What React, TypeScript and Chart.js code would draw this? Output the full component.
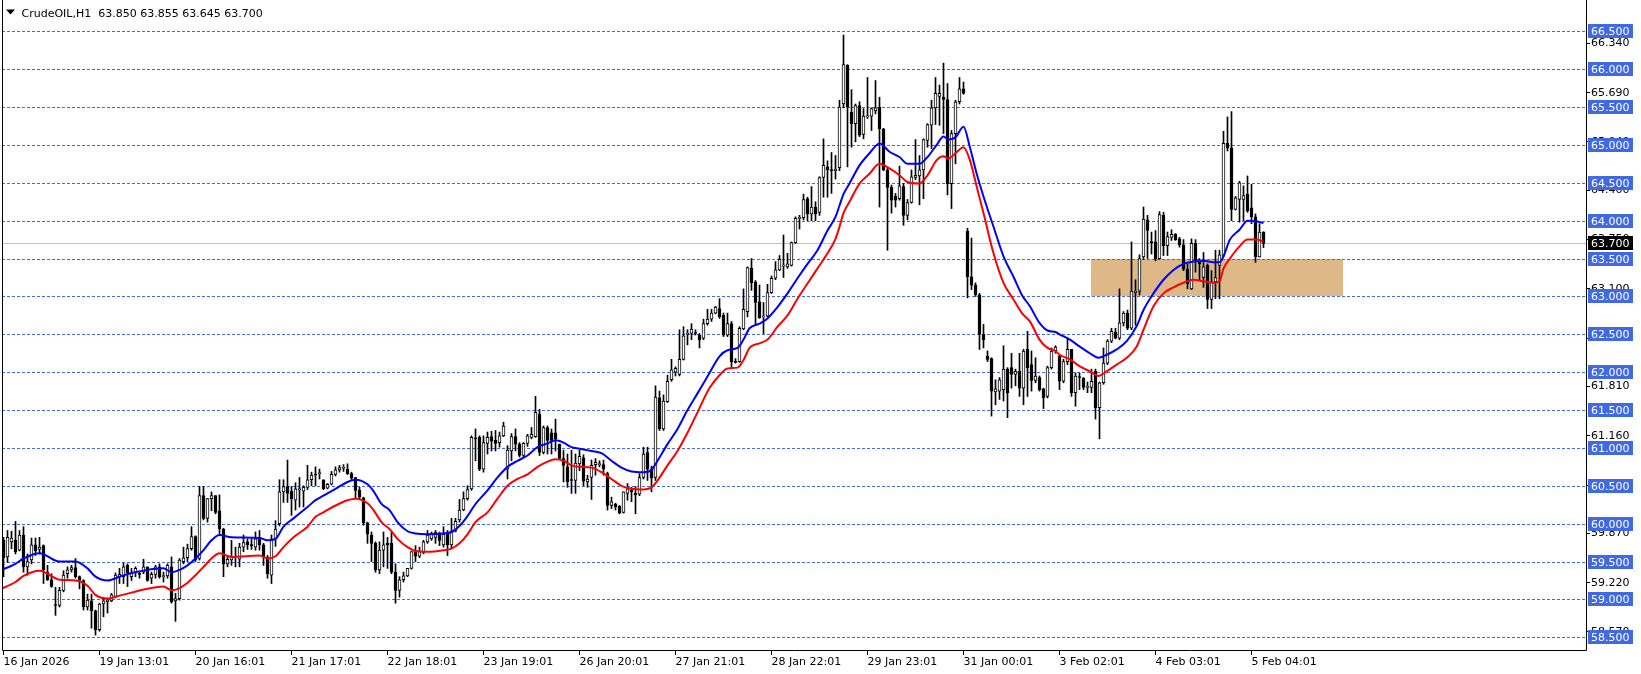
import React, { useEffect, useRef } from "react";
import { Chart, registerables } from "chart.js";

Chart.register(...registerables);

const FONT = "'DejaVu Sans', 'Liberation Sans', sans-serif";

// ---------- OHLC data (H1 bars) ----------
const opens = [
  59.78, 59.56, 59.76, 59.78, 59.65, 59.85, 59.43, 59.52, 59.72, 59.66,
  59.71, 59.36, 59.26, 58.93, 58.92, 59.12, 59.34, 59.39, 59.42, 59.30,
  59.25, 58.90, 58.98, 58.85, 58.60, 58.94, 58.97, 58.98, 59.04, 59.30,
  59.30, 59.45, 59.30, 59.35, 59.34, 59.36, 59.43, 59.28, 59.33, 59.43,
  59.30, 59.31, 59.43, 58.98, 59.01, 59.50, 59.55, 59.67, 59.83, 59.54,
  60.37, 60.07, 60.33, 60.37, 60.17, 59.93, 59.47, 59.52, 59.57, 59.53,
  59.69, 59.76, 59.72, 59.69, 59.80, 59.72, 59.56, 59.32, 59.80, 60.00,
  60.42, 60.49, 60.43, 60.31, 60.45, 60.43, 60.48, 60.58, 60.65, 60.66,
  60.58, 60.47, 60.52, 60.65, 60.71, 60.73, 60.72, 60.66, 60.61, 60.44,
  60.34, 60.01, 59.85, 59.74, 59.39, 59.65, 59.74, 59.74, 59.36, 59.12,
  59.26, 59.31, 59.41, 59.63, 59.57, 59.62, 59.76, 59.80, 59.82, 59.87,
  59.72, 59.86, 59.72, 59.90, 60.05, 60.18, 60.33, 60.46, 61.13, 61.14,
  60.72, 61.06, 61.15, 61.10, 61.07, 61.16, 60.72, 60.96, 61.15, 61.05,
  60.90, 61.06, 61.14, 61.15, 61.45, 60.94, 61.27, 61.20, 61.20, 61.05,
  60.86, 60.75, 60.58, 60.57, 60.79, 60.87, 60.55, 60.61, 60.78, 60.78,
  60.78, 60.66, 60.24, 60.26, 60.23, 60.15, 60.40, 60.44, 60.40, 60.39,
  60.61, 60.94, 60.72, 60.61, 61.66, 61.25, 61.61, 61.90, 62.00, 61.97,
  62.17, 62.50, 62.51, 62.52, 62.49, 62.45, 62.64, 62.70, 62.78, 62.84,
  62.75, 62.49, 62.64, 62.14, 62.14, 62.57, 62.80, 63.37, 63.19, 62.93,
  62.73, 62.74, 63.05, 63.24, 63.35, 63.40, 63.39, 63.41, 63.71, 64.03,
  64.04, 64.29, 64.09, 64.18, 64.11, 64.57, 64.71, 64.67, 64.66, 64.70,
  65.54, 66.05, 65.43, 65.28, 65.52, 65.14, 65.37, 65.38, 65.45, 65.50,
  65.21, 64.67, 64.44, 64.32, 64.29, 64.45, 64.07, 64.24, 64.57, 64.59,
  64.67, 65.06, 65.26, 65.49, 65.64, 65.63, 65.60, 64.49, 65.15, 65.57,
  65.74, 63.86, 63.26, 63.15, 63.02, 62.50, 62.21, 62.18, 61.74, 61.75,
  61.77, 62.04, 62.06, 61.97, 62.01, 61.79, 62.30, 62.10, 61.89, 61.93,
  61.78, 61.68, 62.06, 62.28, 62.21, 61.88, 62.14, 62.30, 61.73, 61.94,
  61.92, 61.80, 61.80, 62.01, 61.53, 61.86, 62.12, 62.41, 62.53, 62.45,
  62.65, 62.78, 62.58, 63.05, 63.07, 63.52, 64.01, 63.72, 63.72, 63.50,
  64.07, 63.67, 63.78, 63.82, 63.76, 63.68, 63.36, 63.10, 63.70, 63.47,
  63.25, 63.41, 62.96, 63.19, 63.41, 63.54, 65.02, 64.96, 64.15, 64.28,
  64.28, 64.35, 64.17, 64.05, 63.52, 63.85,
];

const highs = [
  59.82, 59.91, 59.90, 60.03, 59.91, 59.96, 59.60, 59.81, 59.81, 59.82,
  59.72, 59.45, 59.34, 59.16, 59.16, 59.38, 59.43, 59.45, 59.54, 59.31,
  59.26, 59.07, 59.07, 58.86, 58.95, 59.03, 59.02, 59.08, 59.35, 59.41,
  59.48, 59.47, 59.41, 59.43, 59.36, 59.53, 59.43, 59.36, 59.45, 59.47,
  59.36, 59.47, 59.56, 59.08, 59.54, 59.69, 59.73, 59.96, 59.84, 60.49,
  60.49, 60.33, 60.42, 60.37, 60.38, 59.94, 59.58, 59.78, 59.69, 59.74,
  59.85, 59.80, 59.80, 59.89, 59.91, 59.74, 59.58, 59.85, 60.04, 60.58,
  60.58, 60.84, 60.49, 60.54, 60.61, 60.50, 60.77, 60.68, 60.75, 60.72,
  60.58, 60.53, 60.69, 60.75, 60.77, 60.78, 60.79, 60.68, 60.61, 60.48,
  60.35, 60.02, 59.89, 59.76, 59.76, 59.89, 59.82, 59.89, 59.47, 59.30,
  59.36, 59.41, 59.63, 59.71, 59.69, 59.78, 59.91, 59.89, 59.91, 59.89,
  59.96, 59.91, 60.07, 60.07, 60.32, 60.42, 60.50, 61.16, 61.25, 61.16,
  61.16, 61.21, 61.22, 61.23, 61.21, 61.34, 61.03, 61.19, 61.25, 61.07,
  61.07, 61.18, 61.27, 61.68, 61.51, 61.29, 61.29, 61.25, 61.38, 61.05,
  60.97, 60.92, 60.97, 60.92, 60.97, 60.91, 60.64, 60.84, 60.86, 60.83,
  60.84, 60.68, 60.35, 60.27, 60.24, 60.42, 60.53, 60.48, 60.49, 60.66,
  61.01, 61.01, 60.76, 61.82, 61.75, 61.70, 61.96, 62.17, 62.07, 62.56,
  62.60, 62.56, 62.64, 62.56, 62.51, 62.70, 62.83, 62.83, 62.87, 62.97,
  62.78, 62.78, 62.67, 62.18, 62.60, 63.10, 63.39, 63.50, 63.21, 63.15,
  62.92, 63.16, 63.27, 63.46, 63.54, 63.81, 63.57, 63.72, 64.05, 64.07,
  64.35, 64.31, 64.45, 64.25, 64.58, 65.08, 64.79, 64.90, 64.86, 65.59,
  66.45, 66.06, 65.73, 65.54, 65.57, 65.48, 65.89, 65.49, 65.85, 65.63,
  65.22, 64.69, 64.47, 64.36, 64.72, 64.49, 64.28, 64.67, 65.07, 64.86,
  65.08, 65.28, 65.59, 65.89, 65.79, 66.08, 65.81, 65.19, 65.59, 65.89,
  65.83, 63.90, 63.77, 63.18, 63.04, 62.63, 62.28, 62.19, 61.90, 61.93,
  62.35, 62.06, 62.25, 62.04, 62.25, 62.30, 62.54, 62.28, 62.19, 61.95,
  61.79, 62.08, 62.32, 62.35, 62.23, 62.17, 62.45, 62.30, 61.99, 61.99,
  61.93, 61.87, 62.04, 62.04, 61.87, 62.32, 62.43, 62.58, 62.58, 63.10,
  62.80, 62.82, 63.72, 63.22, 63.55, 64.18, 64.07, 63.85, 63.87, 64.12,
  64.11, 63.85, 63.88, 63.83, 63.78, 63.75, 63.43, 63.76, 63.75, 63.50,
  63.58, 63.43, 63.34, 63.61, 63.61, 65.18, 65.37, 65.44, 64.32, 64.52,
  64.46, 64.59, 64.48, 64.09, 63.96, 63.855,
];

const lows = [
  59.30, 59.49, 59.67, 59.60, 59.64, 59.36, 59.32, 59.47, 59.58, 59.60,
  59.21, 59.25, 59.16, 58.79, 58.90, 59.10, 59.28, 59.36, 59.28, 59.14,
  58.86, 58.86, 58.62, 58.53, 58.58, 58.77, 58.82, 58.97, 59.02, 59.21,
  59.21, 59.17, 59.25, 59.30, 59.28, 59.34, 59.24, 59.21, 59.28, 59.28,
  59.23, 59.28, 58.95, 58.71, 58.99, 59.47, 59.50, 59.65, 59.50, 59.52,
  60.05, 60.02, 60.17, 60.13, 59.87, 59.30, 59.43, 59.45, 59.43, 59.43,
  59.63, 59.66, 59.66, 59.65, 59.65, 59.45, 59.28, 59.21, 59.70, 59.97,
  60.28, 60.28, 60.11, 60.18, 60.22, 60.22, 60.45, 60.50, 60.50, 60.59,
  60.45, 60.46, 60.51, 60.63, 60.68, 60.69, 60.65, 60.57, 60.33, 60.33,
  59.98, 59.74, 59.50, 59.36, 59.34, 59.43, 59.41, 59.34, 58.95, 59.03,
  59.23, 59.30, 59.40, 59.50, 59.55, 59.60, 59.74, 59.78, 59.74, 59.71,
  59.69, 59.58, 59.67, 59.89, 60.02, 60.17, 60.31, 60.44, 60.83, 60.70,
  60.68, 60.92, 60.96, 60.96, 61.01, 61.15, 60.59, 60.83, 60.96, 60.88,
  60.88, 61.02, 61.12, 61.14, 60.90, 60.92, 60.92, 60.92, 60.96, 60.85,
  60.55, 60.48, 60.40, 60.40, 60.70, 60.50, 60.48, 60.32, 60.64, 60.75,
  60.64, 60.18, 60.20, 60.18, 60.13, 60.14, 60.31, 60.29, 60.13, 60.37,
  60.59, 60.57, 60.42, 60.57, 61.23, 61.23, 61.60, 61.88, 61.95, 61.95,
  62.16, 62.36, 62.43, 62.49, 62.32, 62.43, 62.62, 62.67, 62.77, 62.71,
  62.47, 62.47, 62.07, 62.12, 62.13, 62.56, 62.73, 63.08, 62.62, 62.71,
  62.51, 62.73, 63.04, 63.22, 63.34, 63.25, 63.37, 63.40, 63.70, 63.89,
  64.01, 64.00, 64.00, 64.00, 64.07, 64.31, 64.31, 64.36, 64.55, 64.66,
  65.49, 64.71, 64.97, 65.04, 65.11, 65.08, 65.35, 65.19, 65.41, 64.18,
  64.66, 63.61, 64.10, 64.18, 64.27, 63.94, 64.01, 64.23, 64.54, 64.21,
  64.29, 64.97, 64.95, 65.27, 65.26, 65.15, 64.34, 64.16, 64.75, 65.54,
  65.67, 62.98, 63.09, 63.00, 62.30, 62.32, 62.14, 61.42, 61.57, 61.64,
  61.62, 61.40, 61.79, 61.82, 61.68, 61.57, 61.68, 61.75, 61.86, 61.75,
  61.52, 61.66, 62.04, 62.25, 61.77, 61.86, 62.10, 61.68, 61.55, 61.77,
  61.77, 61.73, 61.73, 61.38, 61.12, 61.84, 62.10, 62.39, 62.44, 62.43,
  62.61, 62.56, 62.56, 62.62, 63.02, 63.49, 63.50, 63.56, 63.47, 63.49,
  63.54, 63.54, 63.74, 63.74, 63.65, 63.34, 63.10, 63.09, 63.32, 63.21,
  63.12, 62.84, 62.84, 62.97, 62.97, 63.52, 64.92, 64.00, 64.14, 63.98,
  64.00, 64.11, 63.96, 63.45, 63.52, 63.645,
];

const closes = [
  59.55, 59.82, 59.81, 59.63, 59.85, 59.43, 59.50, 59.72, 59.64, 59.69,
  59.39, 59.26, 59.17, 58.92, 59.12, 59.32, 59.39, 59.42, 59.30, 59.25,
  58.90, 58.99, 58.85, 58.60, 58.94, 58.98, 58.99, 59.06, 59.32, 59.33,
  59.43, 59.35, 59.35, 59.41, 59.33, 59.43, 59.25, 59.33, 59.43, 59.30,
  59.31, 59.45, 58.97, 59.01, 59.52, 59.55, 59.67, 59.83, 59.52, 60.37,
  60.07, 60.33, 60.37, 60.15, 59.93, 59.47, 59.53, 59.56, 59.56, 59.69,
  59.75, 59.72, 59.71, 59.80, 59.72, 59.56, 59.34, 59.80, 59.93, 60.42,
  60.49, 60.40, 60.33, 60.46, 60.45, 60.48, 60.58, 60.64, 60.64, 60.66,
  60.46, 60.52, 60.65, 60.71, 60.74, 60.73, 60.66, 60.60, 60.44, 60.35,
  60.01, 59.86, 59.74, 59.39, 59.65, 59.72, 59.72, 59.36, 59.12, 59.26,
  59.31, 59.41, 59.63, 59.57, 59.63, 59.76, 59.85, 59.87, 59.89, 59.78,
  59.86, 59.72, 59.90, 60.03, 60.18, 60.33, 60.45, 61.14, 61.12, 60.72,
  61.07, 61.14, 61.09, 61.06, 61.16, 61.29, 60.97, 61.15, 61.05, 60.90,
  61.06, 61.16, 61.18, 61.47, 60.94, 61.27, 61.10, 61.10, 61.12, 60.86,
  60.77, 60.55, 60.57, 60.80, 60.89, 60.56, 60.59, 60.77, 60.81, 60.78,
  60.72, 60.24, 60.29, 60.22, 60.14, 60.42, 60.46, 60.42, 60.38, 60.61,
  60.92, 60.72, 60.60, 61.67, 61.25, 61.62, 61.88, 62.03, 62.05, 62.17,
  62.48, 62.51, 62.57, 62.51, 62.43, 62.64, 62.70, 62.78, 62.86, 62.73,
  62.49, 62.64, 62.14, 62.13, 62.58, 62.83, 63.38, 63.18, 62.92, 62.72,
  62.74, 63.05, 63.24, 63.35, 63.49, 63.40, 63.43, 63.71, 64.03, 64.04,
  64.28, 64.09, 64.18, 64.09, 64.57, 64.73, 64.67, 64.66, 64.68, 65.50,
  66.06, 65.50, 65.28, 65.52, 65.13, 65.38, 65.38, 65.48, 65.49, 65.21,
  64.67, 64.44, 64.27, 64.27, 64.46, 64.07, 64.24, 64.58, 64.60, 64.67,
  65.07, 65.27, 65.49, 65.68, 65.68, 65.60, 64.49, 65.15, 65.57, 65.74,
  65.68, 63.26, 63.15, 63.02, 62.50, 62.43, 62.17, 61.75, 61.78, 61.90,
  62.04, 61.73, 61.97, 62.01, 61.79, 62.28, 62.06, 61.89, 61.95, 61.77,
  61.66, 62.06, 62.28, 62.33, 61.88, 62.14, 62.30, 61.73, 61.95, 61.93,
  61.80, 61.80, 61.88, 61.53, 61.86, 62.12, 62.41, 62.54, 62.45, 62.65,
  62.78, 62.58, 63.07, 63.07, 63.50, 64.02, 63.87, 63.71, 63.50, 64.08,
  63.67, 63.79, 63.82, 63.75, 63.68, 63.36, 63.17, 63.70, 63.47, 63.43,
  63.39, 62.96, 63.19, 63.25, 63.55, 65.02, 64.96, 64.15, 64.30, 64.50,
  64.33, 64.13, 64.05, 63.52, 63.85, 63.70,
];

// ---------- moving averages (sampled along the bars) ----------
const maBars = [
  -1, 3, 5, 9, 14, 18, 21, 23, 26, 29, 32, 36, 40, 42, 44, 46, 48, 50, 52, 54,
  57, 64, 66, 68, 70, 72.5, 76, 78, 80, 83, 86, 88, 91, 92.5, 94.5, 96.5, 98.5, 101, 103, 106,
  110, 112, 114, 116, 118, 121, 123.5, 126, 128.5, 131, 133.5, 136, 138, 140, 142, 144, 147, 149.5, 152, 154.5,
  157, 160, 162, 163.5, 166, 168.5, 171, 173.5, 176.5, 179, 181, 183.5, 185, 186.5, 189, 191, 193.5, 196, 198.5, 201,
  203.5, 206, 208, 209, 210, 211.5, 214, 216.5, 219, 221.5, 224, 226, 229, 231, 233.3, 235, 236.2, 238, 240, 241.6,
  243.3, 245, 247.5, 250, 252.5, 254.6, 256.6, 259, 261, 263, 264, 266.6, 269, 271.6, 273.7, 275.8, 278.3, 280.8, 283.3, 285,
  287.5, 290, 292.5, 295, 297.5, 300, 302.5, 304, 305, 306.6, 309, 311, 313.3, 315,
];
const maBlue = [
  59.38, 59.47, 59.54, 59.61, 59.50, 59.50, 59.41, 59.30, 59.25, 59.30, 59.35, 59.39, 59.41, 59.36, 59.39, 59.45, 59.54, 59.65, 59.78, 59.85,
  59.82, 59.81, 59.78, 59.80, 59.96, 60.07, 60.22, 60.31, 60.37, 60.46, 60.55, 60.58, 60.52, 60.43, 60.26, 60.18, 60.02, 59.90, 59.87, 59.86,
  59.87, 59.89, 59.97, 60.10, 60.26, 60.44, 60.61, 60.75, 60.83, 60.90, 61.01, 61.06, 61.10, 61.07, 61.01, 60.99, 60.96, 60.93, 60.83, 60.74,
  60.69, 60.68, 60.71, 60.83, 61.05, 61.25, 61.50, 61.72, 61.99, 62.21, 62.29, 62.32, 62.43, 62.58, 62.64, 62.71, 62.86, 63.04, 63.24, 63.43,
  63.61, 63.87, 64.05, 64.20, 64.35, 64.49, 64.73, 64.89, 65.02, 64.91, 64.84, 64.75, 64.75, 64.84, 65.00, 65.11, 65.07, 65.10, 65.24, 64.97,
  64.62, 64.32, 63.92, 63.53, 63.26, 63.02, 62.87, 62.65, 62.55, 62.53, 62.50, 62.43, 62.34, 62.25, 62.19, 62.23, 62.30, 62.41, 62.61, 62.82,
  63.04, 63.22, 63.35, 63.43, 63.46, 63.47, 63.45, 63.45, 63.53, 63.75, 63.88, 64.00, 63.99, 63.97,
];
const maRed = [
  59.13, 59.23, 59.31, 59.38, 59.26, 59.25, 59.18, 59.06, 59.01, 59.05, 59.09, 59.14, 59.17, 59.12, 59.15, 59.22, 59.32, 59.43, 59.54, 59.61,
  59.56, 59.58, 59.54, 59.57, 59.69, 59.82, 59.96, 60.09, 60.15, 60.24, 60.31, 60.33, 60.27, 60.18, 60.02, 59.93, 59.80, 59.69, 59.64, 59.63,
  59.65, 59.67, 59.74, 59.86, 60.02, 60.15, 60.33, 60.50, 60.59, 60.65, 60.75, 60.82, 60.85, 60.83, 60.77, 60.75, 60.74, 60.68, 60.59, 60.50,
  60.46, 60.45, 60.48, 60.57, 60.77, 60.96, 61.20, 61.47, 61.79, 61.96, 62.05, 62.06, 62.16, 62.32, 62.38, 62.43, 62.60, 62.75, 62.97, 63.17,
  63.37, 63.57, 63.76, 63.92, 64.10, 64.25, 64.49, 64.62, 64.75, 64.69, 64.60, 64.51, 64.49, 64.60, 64.80, 64.85, 64.82, 64.89, 64.97, 64.80,
  64.45, 64.10, 63.57, 63.18, 62.96, 62.78, 62.67, 62.43, 62.32, 62.28, 62.23, 62.17, 62.08, 62.01, 61.95, 62.01, 62.10, 62.19, 62.34, 62.56,
  62.87, 63.04, 63.12, 63.18, 63.22, 63.20, 63.18, 63.20, 63.37, 63.50, 63.66, 63.75, 63.75, 63.72,
];

// ---------- axes / annotations ----------
const xTickBars = [0, 24, 48, 72, 96, 120, 144, 168, 192, 216, 240, 264, 288, 312];
const xTickLabels = [
  "16 Jan 2026", "19 Jan 13:01", "20 Jan 16:01", "21 Jan 17:01", "22 Jan 18:01",
  "23 Jan 19:01", "26 Jan 20:01", "27 Jan 21:01", "28 Jan 22:01", "29 Jan 23:01",
  "31 Jan 00:01", "3 Feb 02:01", "4 Feb 03:01", "5 Feb 04:01",
];
const yScaleTicks = [58.57, 59.22, 59.87, 60.51, 61.16, 61.81, 62.45, 63.1, 63.75, 64.4, 65.04, 65.69, 66.34];
const levelPrices = [58.5, 59.0, 59.5, 60.0, 60.5, 61.0, 61.5, 62.0, 62.5, 63.0, 63.5, 64.0, 64.5, 65.0, 65.5, 66.0, 66.5];
const currentPrice = 63.7;
const zoneBars = [271.9, 334.8];
const zonePrices = [63.0, 63.5];
const headerText = "CrudeOIL,H1  63.850 63.855 63.645 63.700";

export default function App() {
  const canvasRef = useRef<HTMLCanvasElement | null>(null);

  useEffect(() => {
    const canvas = canvasRef.current;
    if (!canvas) return;
    Chart.defaults.font.family = FONT;
    Chart.defaults.font.size = 11;
    Chart.defaults.color = "#000000";

    const idx = closes.map((_, i) => i);
    const bodyColors = idx.map((i) => (closes[i] >= opens[i] ? "#ffffff" : "#000000"));

    const mt4Plugin = {
      id: "mt4Overlay",
      beforeDatasetsDraw(chart: any) {
        const { ctx, chartArea: a, scales } = chart;
        const x = scales.x;
        const y = scales.y;
        ctx.save();
        // zone rectangle
        const zx1 = Math.round(x.getPixelForValue(zoneBars[0]));
        const zx2 = Math.round(x.getPixelForValue(zoneBars[1]));
        const zy1 = Math.round(y.getPixelForValue(zonePrices[1]));
        const zy2 = Math.round(y.getPixelForValue(zonePrices[0]));
        ctx.fillStyle = "#DEB887";
        ctx.fillRect(zx1, zy1, zx2 - zx1, zy2 - zy1);
        // dashed levels
        ctx.strokeStyle = "#4169E1";
        ctx.lineWidth = 1;
        ctx.setLineDash([3, 2]);
        for (const p of levelPrices) {
          const py = Math.round(y.getPixelForValue(p)) + 0.5;
          ctx.beginPath();
          ctx.moveTo(a.left, py);
          ctx.lineTo(a.right, py);
          ctx.stroke();
        }
        ctx.setLineDash([]);
        // current price line
        const cy = Math.round(y.getPixelForValue(currentPrice)) + 0.5;
        ctx.strokeStyle = "#C0C0C0";
        ctx.beginPath();
        ctx.moveTo(a.left, cy);
        ctx.lineTo(a.right, cy);
        ctx.stroke();
        ctx.restore();
      },
      afterDraw(chart: any) {
        const { ctx, chartArea: a, scales } = chart;
        const y = scales.y;
        ctx.save();
        // frame
        ctx.strokeStyle = "#000000";
        ctx.lineWidth = 1;
        ctx.beginPath();
        ctx.moveTo(a.left + 0.5, 0);
        ctx.lineTo(a.left + 0.5, a.bottom - 0.5);
        ctx.lineTo(a.right - 0.5, a.bottom - 0.5);
        ctx.lineTo(a.right - 0.5, 0);
        ctx.stroke();
        // level label boxes
        ctx.font = "11px " + FONT;
        ctx.textAlign = "left";
        ctx.textBaseline = "alphabetic";
        const drawBox = (p: number, bg: string) => {
          const py = Math.round(y.getPixelForValue(p));
          ctx.fillStyle = bg;
          ctx.fillRect(a.right + 1, py - 7, 45, 14);
          ctx.fillStyle = "#ffffff";
          ctx.fillText(p.toFixed(3), a.right + 4, py + 4);
        };
        for (const p of levelPrices) drawBox(p, "#4169E1");
        drawBox(currentPrice, "#000000");
        // header
        ctx.fillStyle = "#000000";
        ctx.beginPath();
        ctx.moveTo(6, 9.5);
        ctx.lineTo(15, 9.5);
        ctx.lineTo(10.5, 14.5);
        ctx.closePath();
        ctx.fill();
        ctx.fillText(headerText, 21.5, 17);
        ctx.restore();
      },
    };

    const chart = new Chart(canvas, {
      type: "bar",
      data: {
        datasets: [
          {
            type: "line",
            label: "MA fast",
            data: maBars.map((b, k) => ({ x: b, y: maBlue[k] })),
            borderColor: "#0000FF",
            borderWidth: 2,
            pointRadius: 0,
            cubicInterpolationMode: "monotone",
            order: 0,
          } as any,
          {
            type: "line",
            label: "MA slow",
            data: maBars.map((b, k) => ({ x: b, y: maRed[k] })),
            borderColor: "#FF0000",
            borderWidth: 2,
            pointRadius: 0,
            cubicInterpolationMode: "monotone",
            order: 1,
          } as any,
          {
            type: "bar",
            label: "bodies",
            data: idx.map((i) => ({ x: i, y: [opens[i], closes[i]] })),
            backgroundColor: bodyColors,
            borderColor: "#000000",
            borderWidth: 1,
            borderSkipped: false,
            barThickness: 3,
            minBarLength: 1,
            grouped: false,
            order: 2,
          } as any,
          {
            type: "bar",
            label: "wicks",
            data: idx.map((i) => ({ x: i, y: [lows[i], highs[i]] })),
            backgroundColor: "#000000",
            borderWidth: 0,
            barThickness: 1,
            minBarLength: 1,
            grouped: false,
            order: 3,
          } as any,
        ],
      },
      options: {
        animation: false,
        responsive: false,
        devicePixelRatio: 1,
        events: [],
        layout: { padding: { left: 2, top: 0, right: 0, bottom: 0 } },
        plugins: { legend: { display: false }, tooltip: { enabled: false } },
        scales: {
          x: {
            type: "linear",
            min: -0.375,
            max: 395.875,
            offset: false,
            border: { display: false },
            grid: { display: true, drawOnChartArea: false, drawTicks: true, tickLength: 4, color: "#000000", offset: false },
            ticks: {
              autoSkip: false,
              maxRotation: 0,
              align: "start",
              padding: 1,
              color: "#000000",
              font: { family: FONT, size: 11 },
              callback: (_v: any, i: number) => xTickLabels[i] ?? "",
            },
            afterBuildTicks: (scale: any) => {
              scale.ticks = xTickBars.map((v) => ({ value: v }));
            },
            afterFit: (scale: any) => {
              scale.height = 23;
              scale.paddingLeft = 0;
              scale.paddingRight = 0;
            },
          },
          y: {
            type: "linear",
            position: "right",
            min: 58.3191,
            max: 66.9132,
            border: { display: false },
            grid: { display: true, drawOnChartArea: false, drawTicks: true, tickLength: 3, color: "#000000" },
            ticks: {
              autoSkip: false,
              padding: 1,
              color: "#000000",
              font: { family: FONT, size: 11 },
              callback: (v: any) => Number(v).toFixed(3),
            },
            afterBuildTicks: (scale: any) => {
              scale.ticks = yScaleTicks.map((v) => ({ value: v }));
            },
            afterFit: (scale: any) => {
              scale.width = 54;
              scale.paddingTop = 0;
              scale.paddingBottom = 0;
            },
          },
        },
      } as any,
      plugins: [mt4Plugin],
    });

    return () => chart.destroy();
  }, []);

  return (
    <div style={{ position: "absolute", left: 0, top: 0, width: 1641, height: 674, background: "#ffffff" }}>
      <canvas ref={canvasRef} width={1641} height={674} style={{ display: "block", width: 1641, height: 674 }} />
    </div>
  );
}
